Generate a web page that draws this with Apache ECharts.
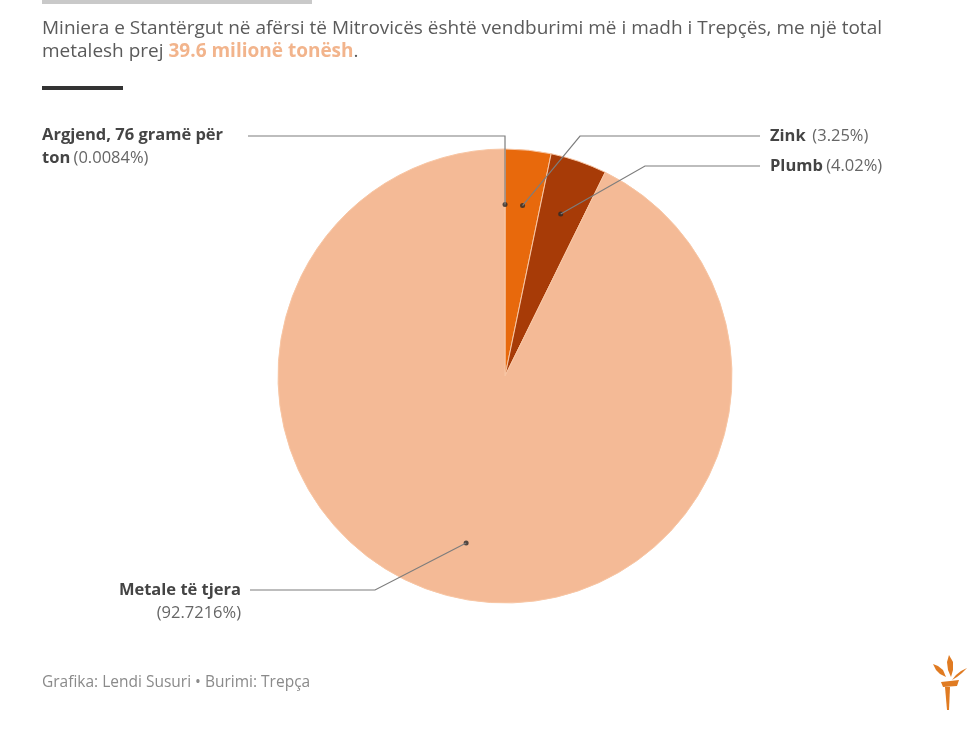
<!DOCTYPE html>
<html><head><meta charset="utf-8">
<script src="https://cdn.jsdelivr.net/npm/echarts@6/dist/echarts.min.js"></script>
<style>html,body{margin:0;padding:0;background:#fff}#c{width:980px;height:740px}</style>
</head><body><div id="c"></div>
<script>
// ---- data ----
const categories = ['Argjend, 76 gramë për ton', 'Zink', 'Plumb', 'Metale të tjera'];
const values = [0.0084, 3.25, 4.02, 92.7216];
const percentLabels = ['0.0084%', '3.25%', '4.02%', '92.7216%'];
const sliceColors = ['#e0681a', '#e8690c', '#a73b07', '#f4ba96'];

// ---- layout ----
const CX = 505, CY = 376, R = 227, DOT = 0.755;
const labelLayouts = [
  {x: 42, y: 124, align: 'left', v: 'top', elbow: [505, 136], end: [248, 136]},
  {x: 770, y: 136, align: 'left', v: 'middle', elbow: [580, 136], end: [760, 136]},
  {x: 770, y: 166, align: 'left', v: 'middle', elbow: [645, 166], end: [760, 166]},
  {x: 241, y: 579, align: 'right', v: 'top', elbow: [375, 590], end: [250, 590]}
];

const total = values.reduce((a, b) => a + b, 0);
const mids = [];
let cum = 0;
values.forEach(v => { mids.push(cum + v / 2); cum += v; });
function dotPoint(i) {
  const a = mids[i] / total * Math.PI * 2;
  return [CX + DOT * R * Math.sin(a), CY - DOT * R * Math.cos(a)];
}

const FONT = '"Open Sans", sans-serif';
const labelText = [
  '{b|Argjend, 76 gramë për}\n{b|ton} {n|(' + percentLabels[0] + ')}',
  '{b|Zink}  {n|(' + percentLabels[1] + ')}',
  '{b|Plumb} {n|(' + percentLabels[2] + ')}',
  '{b|Metale të tjera}\n{n|(' + percentLabels[3] + ')}'
];

const LOGO = '#e07b22';
const guideLines = labelLayouts.map((L, i) => ({
  type: 'polyline', z: 50, silent: true,
  shape: {points: [dotPoint(i), L.elbow, L.end]},
  style: {stroke: '#7d7d7d', lineWidth: 1.2, fill: null}
}));

const chart = echarts.init(document.getElementById('c'), null, {renderer: 'canvas'});
chart.setOption({
  animation: false,
  backgroundColor: '#fff',
  title: {
    left: 42, top: 17, padding: 0,
    text: '{a|Miniera e Stantërgut në afërsi të Mitrovicës është vendburimi më i madh i Trepçës, me një total}\n{a|metalesh prej }{h|39.6 milionë tonësh}{a|.}',
    textStyle: {
      fontWeight: 'normal',
      rich: {
        a: {fontFamily: FONT, fontSize: 19, fontWeight: 'normal', color: '#5a5a5a', lineHeight: 23},
        h: {fontFamily: FONT, fontSize: 19, color: '#f2b48c', fontWeight: 'bold', lineHeight: 23}
      }
    }
  },
  polar: {center: [CX, CY], radius: R},
  angleAxis: {type: 'value', min: 0, max: total, startAngle: 90, clockwise: true, show: false},
  radiusAxis: {type: 'value', min: 0, max: 1, show: false},
  series: [
    {
      type: 'pie',
      center: [CX, CY],
      radius: R,
      startAngle: 90,
      clockwise: true,
      avoidLabelOverlap: false,
      minShowLabelAngle: 0,
      silent: true,
      itemStyle: {borderColor: '#f8c6a4', borderWidth: 1},
      data: categories.map((c, i) => ({name: c, value: values[i], itemStyle: {color: sliceColors[i]}})),
      label: {
        show: true,
        formatter: p => labelText[p.dataIndex],
        rich: {
          b: {fontFamily: FONT, fontSize: 16.5, fontWeight: 'bold', color: '#444', lineHeight: 23},
          n: {fontFamily: FONT, fontSize: 16.5, color: '#666', lineHeight: 23}
        }
      },
      labelLine: {show: false},
      labelLayout: function (p) {
        const L = labelLayouts[p.dataIndex];
        return {x: L.x, y: L.y, align: L.align, verticalAlign: L.v};
      }
    },
    {
      type: 'scatter',
      coordinateSystem: 'polar',
      symbolSize: 5,
      z: 10,
      silent: true,
      itemStyle: {color: '#2a2a2a'},
      data: values.map((v, i) => [DOT, mids[i]])
    }
  ],
  graphic: [
    {type: 'rect', shape: {x: 42, y: 0, width: 270, height: 4}, style: {fill: '#c9c9c9'}},
    {type: 'rect', shape: {x: 42, y: 86, width: 81, height: 4}, style: {fill: '#333'}},
    {type: 'text', x: 42, y: 675, style: {text: 'Grafika: Lendi Susuri • Burimi: Trepça', fontFamily: FONT, fontSize: 15.5, fill: '#8a8a8a'}},
    {type: 'polygon', shape: {points: [[933,664],[938,666],[943,670],[946,677],[940,674],[936,670]]}, style: {fill: LOGO}},
    {type: 'polygon', shape: {points: [[949,655],[953,662],[953,670],[951,677],[948,670],[947,662]]}, style: {fill: LOGO}},
    {type: 'polygon', shape: {points: [[967,668],[962,673],[957,677],[952,680],[956,675],[961,671]]}, style: {fill: LOGO}},
    {type: 'polygon', shape: {points: [[941,682],[959,680],[957,686],[943,687]]}, style: {fill: LOGO}},
    {type: 'polygon', shape: {points: [[945,687],[950,687],[949,710],[947,710]]}, style: {fill: LOGO}}
  ].concat(guideLines)
});
</script>
</body></html>
